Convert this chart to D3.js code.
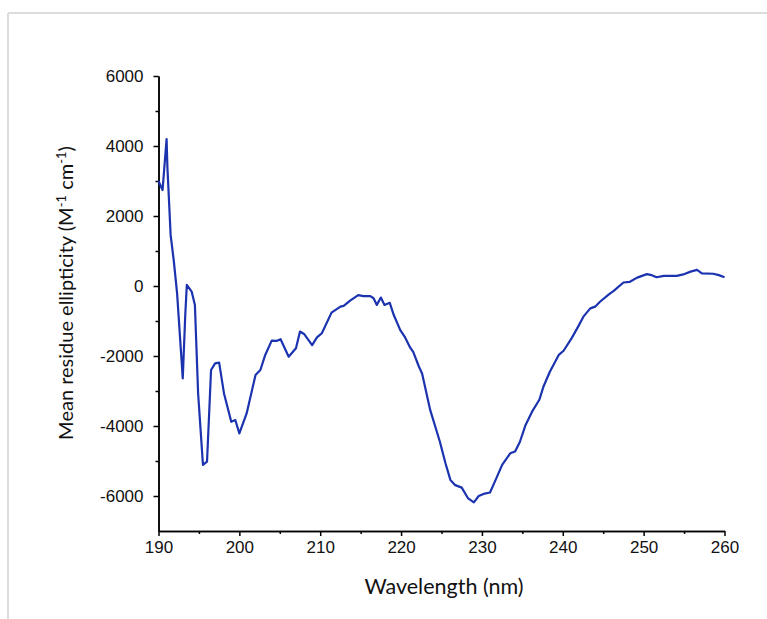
<!DOCTYPE html>
<html>
<head>
<meta charset="utf-8">
<script src="https://cdn.jsdelivr.net/npm/d3@7"></script>
<style>
  body { margin: 0; background: #fff; }
</style>
</head>
<body>
<script>
// CD spectrum
const wavelength = [190.0, 190.5, 191.0, 191.1, 191.5, 191.9, 192.3, 193.0, 193.3, 193.5,
  194.1, 194.5, 194.9, 195.5, 196.0, 196.5, 197.0, 197.5, 198.1, 199.0,
  199.5, 200.0, 200.9, 202.0, 202.6, 203.2, 204.0, 204.6, 205.1, 206.1,
  207.0, 207.5, 208.0, 209.0, 209.6, 210.2, 211.4, 212.5, 212.9, 213.7,
  214.7, 215.35, 216.2, 216.6, 217.0, 217.5, 217.95, 218.6, 219.1, 219.9,
  220.5, 221.1, 221.5, 222.2, 222.6, 223.6, 224.8, 225.5, 226.1, 226.7,
  227.5, 228.3, 229.0, 229.6, 230.2, 231.0, 231.6, 232.5, 233.5, 234.1,
  234.7, 235.4, 236.2, 237.1, 237.6, 238.4, 239.5, 240.1, 241.1, 241.9,
  242.6, 243.4, 244.0, 244.6, 245.7, 246.3, 247.5, 248.3, 249.2, 250.4,
  251.0, 251.6, 252.5, 253.5, 254.1, 254.9, 255.8, 256.6, 257.2, 258.6,
  259.3, 260.0]
const ellipticity = [3000, 2740, 4200, 3400, 1460, 700, -210, -2640, -880, 30,
  -160, -540, -3070, -5110, -5020, -2400, -2210, -2190, -3070, -3880,
  -3830, -4210, -3640, -2540, -2400, -1970, -1560, -1570, -1520, -2020,
  -1780, -1300, -1370, -1690, -1470, -1350, -760, -590, -570, -420,
  -260, -290, -290, -350, -540, -330, -540, -480, -830, -1260,
  -1470, -1750, -1880, -2300, -2500, -3540, -4450, -5070, -5540, -5690,
  -5760, -6070, -6180, -6000, -5940, -5900, -5590, -5110, -4780, -4730,
  -4450, -3970, -3590, -3250, -2880, -2450, -1970, -1850, -1490, -1160,
  -860, -640, -590, -450, -240, -140, 100, 120, 240, 340,
  310, 250, 290, 290, 290, 330, 410, 460, 360, 350,
  310, 250]

const xTicks = [190, 200, 210, 220, 230, 240, 250, 260]
const xMinor = [195, 205, 215, 225, 235, 245, 255]
const yTicks = [-6000, -4000, -2000, 0, 2000, 4000, 6000]
const yMinor = [-5000, -3000, -1000, 1000, 3000, 5000]

const W = 767, H = 619
const svg = d3.select('body').append('svg')
  .attr('width', W).attr('height', H)

// faint frame round the figure
svg.append('line').attr('x1', 8).attr('x2', W).attr('y1', 13).attr('y2', 13)
  .attr('stroke', '#dcdcdc').attr('stroke-width', 2)
svg.append('line').attr('x1', 8).attr('x2', 8).attr('y1', 13).attr('y2', H)
  .attr('stroke', '#dcdcdc').attr('stroke-width', 2)

const x = d3.scaleLinear().domain([190, 260]).range([158.5, 724.5])
const y = d3.scaleLinear().domain([-7000, 6000]).range([531, 76])

const tickFont = '"Liberation Sans", Arial, sans-serif'
const plain = d => String(d)   // plain hyphen minus like the original

// minor ticks first, then major axes
svg.append('g').attr('transform', 'translate(0,531)')
  .call(d3.axisBottom(x).tickValues(xMinor).tickSize(3).tickSizeOuter(0).tickFormat(''))
svg.append('g').attr('transform', 'translate(158.5,0)')
  .call(d3.axisLeft(y).tickValues(yMinor).tickSize(3).tickSizeOuter(0).tickFormat(''))

const xAxis = svg.append('g').attr('transform', 'translate(0,531)')
  .call(d3.axisBottom(x).tickValues(xTicks).tickSize(5).tickSizeOuter(0).tickPadding(5).tickFormat(plain))
const yAxis = svg.append('g').attr('transform', 'translate(158.5,0)')
  .call(d3.axisLeft(y).tickValues(yTicks).tickSize(5).tickSizeOuter(0).tickPadding(10).tickFormat(plain))

svg.selectAll('.domain, .tick line').attr('stroke', '#000').attr('stroke-width', 1.5)
svg.selectAll('.tick text')
  .style('font-family', tickFont).style('font-size', '17px').attr('fill', '#111')

// curve
const line = d3.line()
  .x(i => x(wavelength[i]))
  .y(i => y(ellipticity[i]))
svg.append('path')
  .datum(d3.range(wavelength.length))
  .attr('d', line)
  .attr('fill', 'none')
  .attr('stroke', '#1c33b0')
  .attr('stroke-width', 2.2)
  .attr('stroke-linejoin', 'round')

const titleFont = 'Lato, "Open Sans", sans-serif'

svg.append('text')
  .attr('x', 444).attr('y', 594)
  .attr('text-anchor', 'middle')
  .style('font-family', titleFont).style('font-size', '21.5px')
  .attr('fill', '#111')
  .text('Wavelength (nm)')

const yl = svg.append('text')
  .attr('transform', 'translate(73,293) rotate(-90)')
  .attr('text-anchor', 'middle')
  .style('font-family', titleFont).style('font-size', '20px')
  .attr('fill', '#111')
yl.append('tspan').text('Mean residue ellipticity (M')
yl.append('tspan').attr('dy', -7).style('font-size', '13px').text('-1')
yl.append('tspan').attr('dy', 7).text(' cm')
yl.append('tspan').attr('dy', -7).style('font-size', '13px').text('-1')
yl.append('tspan').attr('dy', 7).text(')')
</script>
</body>
</html>
